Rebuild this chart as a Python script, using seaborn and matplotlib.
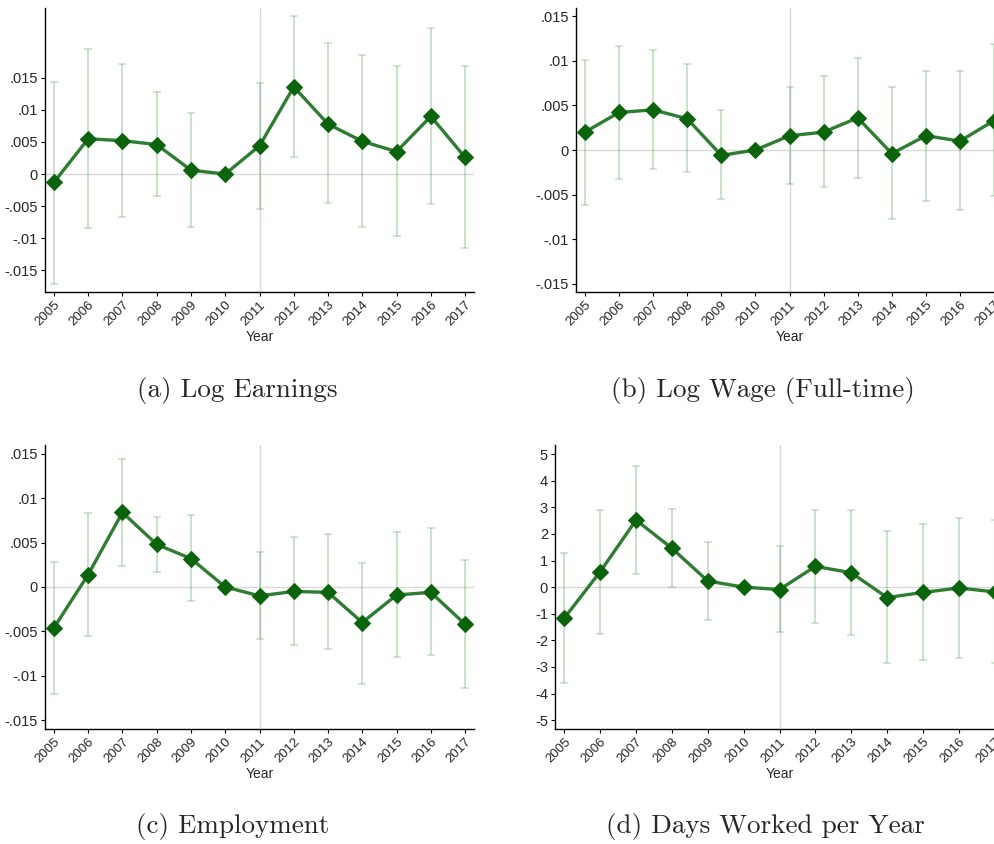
import numpy as np
import matplotlib
matplotlib.use('Agg')
import matplotlib.pyplot as plt
import seaborn as sns

years = np.arange(2005, 2018)
ref_year = 2010

# (a) Log Earnings
earn = [-0.0013, 0.0055, 0.0052, 0.0046, 0.0006, 0.0, 0.0044, 0.0136, 0.0078, 0.0051, 0.0035, 0.0090, 0.0026]
earn_lo = [-0.0171, -0.0084, -0.0067, -0.0035, -0.0082, np.nan, -0.0055, 0.0027, -0.0045, -0.0083, -0.0097, -0.0047, -0.0116]
earn_hi = [0.0144, 0.0195, 0.0171, 0.0128, 0.0095, np.nan, 0.0142, 0.0247, 0.0204, 0.0185, 0.0168, 0.0228, 0.0168]

# (b) Log Wage (Full-time)
wage = [0.0020, 0.0042, 0.0045, 0.0035, -0.0006, 0.0, 0.0016, 0.0020, 0.0036, -0.0004, 0.0016, 0.0010, 0.0033]
wage_lo = [-0.0062, -0.0032, -0.0021, -0.0025, -0.0055, np.nan, -0.0038, -0.0041, -0.0031, -0.0077, -0.0057, -0.0067, -0.0052]
wage_hi = [0.0101, 0.0117, 0.0112, 0.0096, 0.0045, np.nan, 0.0070, 0.0083, 0.0103, 0.0070, 0.0089, 0.0088, 0.0119]

# (c) Employment
empl = [-0.0046, 0.0014, 0.0084, 0.0048, 0.0032, 0.0, -0.0010, -0.0005, -0.0006, -0.0040, -0.0009, -0.0006, -0.0042]
empl_lo = [-0.0120, -0.0055, 0.0024, 0.0017, -0.0016, np.nan, -0.0059, -0.0065, -0.0070, -0.0109, -0.0079, -0.0077, -0.0114]
empl_hi = [0.0028, 0.0083, 0.0144, 0.0079, 0.0081, np.nan, 0.0040, 0.0056, 0.0060, 0.0027, 0.0062, 0.0066, 0.0030]

# (d) Days Worked per Year
days = [-1.16, 0.58, 2.52, 1.46, 0.23, 0.0, -0.09, 0.78, 0.54, -0.39, -0.20, -0.03, -0.18]
days_lo = [-3.62, -1.77, 0.50, 0.00, -1.25, np.nan, -1.67, -1.34, -1.79, -2.86, -2.75, -2.66, -2.84]
days_hi = [1.29, 2.90, 4.56, 2.95, 1.70, np.nan, 1.53, 2.89, 2.89, 2.10, 2.36, 2.59, 2.53]

small_ticks = [-0.015, -0.01, -0.005, 0, 0.005, 0.01, 0.015]
small_labels = ['-.015', '-.01', '-.005', '0', '.005', '.01', '.015']
day_ticks = [-5, -4, -3, -2, -1, 0, 1, 2, 3, 4, 5]
day_labels = [str(t) for t in day_ticks]

captions = ['(a) Log Earnings', '(b) Log Wage (Full-time)',
            '(c) Employment', '(d) Days Worked per Year']

sns.set_style('white')
plt.rcParams['font.family'] = ['Liberation Sans', 'DejaVu Sans']

W, H = 995, 844
fig = plt.figure(figsize=(W / 100, H / 100), dpi=100)

def box(l, r, t, b):
    return [l / W, 1 - b / H, (r - l) / W, (b - t) / H]

panels = [
    (box(45, 474, 8, 292), earn, earn_lo, earn_hi, (-0.0184, 0.0259), small_ticks, small_labels),
    (box(576, 1003, 8, 292), wage, wage_lo, wage_hi, (-0.0159, 0.0159), small_ticks, small_labels),
    (box(45, 474, 445, 729), empl, empl_lo, empl_hi, (-0.0160, 0.0160), small_ticks, small_labels),
    (box(555, 1004, 445, 729), days, days_lo, days_hi, (-5.33, 5.34), day_ticks, day_labels),
]
cap_pos = [(237, 390), (763, 390), (233, 826), (765, 826)]

line_col = '#2e7d32'
mark_col = '#0b640b'
ci_col = '#2e8b2e'

for (rect, est, lo, hi, ylim, yt, yl), cap, (cx, cy) in zip(panels, captions, cap_pos):
    ax = fig.add_axes(rect)
    est = np.array(est)
    lo = np.array(lo)
    hi = np.array(hi)
    ok = ~np.isnan(lo)
    ax.axhline(0, color='#d8d8d8', lw=1, zorder=0)
    ax.axvline(2011, color='#d8d8d8', lw=1, zorder=0)
    ax.errorbar(years[ok], est[ok], yerr=[est[ok] - lo[ok], hi[ok] - est[ok]],
                fmt='none', ecolor=ci_col, alpha=0.25, elinewidth=1.5,
                capsize=3, capthick=1.2, zorder=1)
    sns.lineplot(x=years, y=est, ax=ax, color=line_col, lw=2.4, marker='D',
                 markersize=8, markerfacecolor=mark_col, markeredgecolor=mark_col,
                 zorder=3)
    ax.set_xlim(2004.74, 2017.26)
    ax.set_ylim(*ylim)
    ax.set_yticks(yt)
    ax.set_yticklabels(yl, fontsize=10.5)
    ax.set_xticks(years)
    ax.set_xticklabels([str(y) for y in years], rotation=45, ha='right',
                       rotation_mode='anchor', fontsize=9.5)
    ax.set_xlabel('Year', fontsize=10, labelpad=1)
    ax.set_ylabel('')
    ax.tick_params(axis='both', which='major', length=3, width=0.8,
                   color='black', pad=2, direction='out', bottom=True, left=True)
    sns.despine(ax=ax)
    for s in ['left', 'bottom']:
        ax.spines[s].set_color('black')
        ax.spines[s].set_linewidth(1)
    fig.text(cx / W, 1 - cy / H, cap, ha='center', va='center',
             fontsize=19.5, family='cmr10')

fig.savefig('out.png', dpi=100)
